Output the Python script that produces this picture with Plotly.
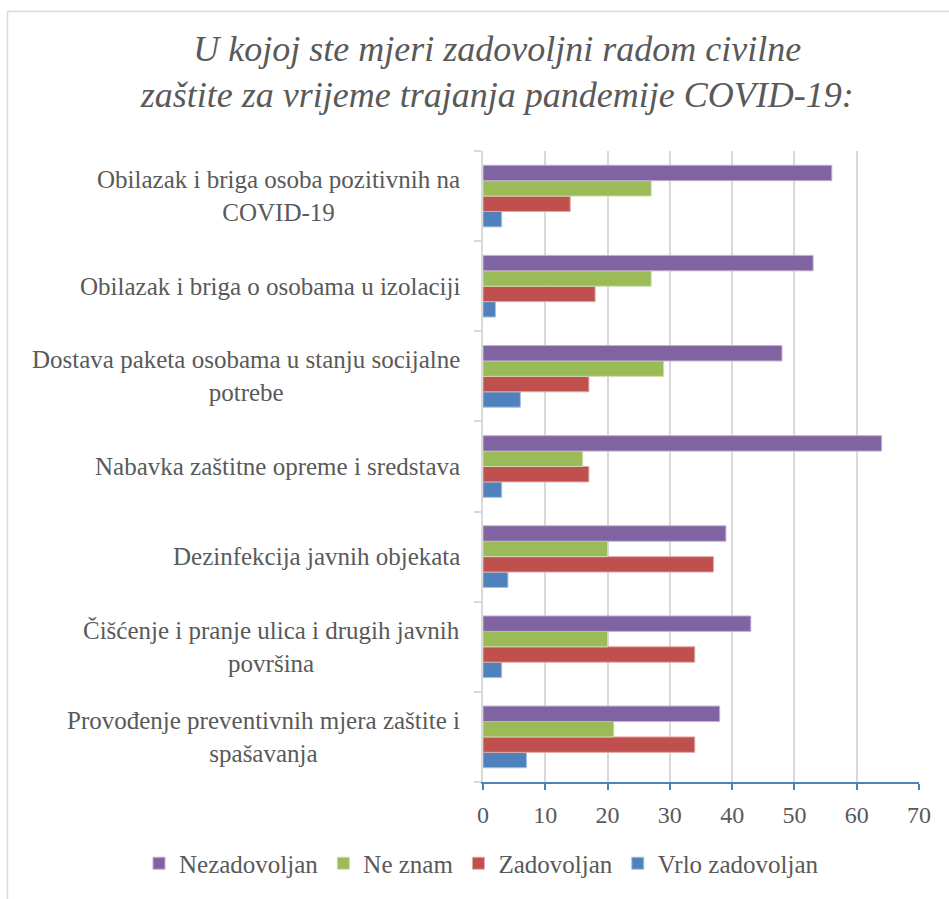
import plotly.graph_objects as go

# Categories, top to bottom as in the reference
categories = [
    "Obilazak i briga osoba pozitivnih na<br>COVID-19",
    "Obilazak i briga o osobama u izolaciji",
    "Dostava paketa osobama u stanju socijalne<br>potrebe",
    "Nabavka zaštitne opreme i sredstava",
    "Dezinfekcija javnih objekata",
    "Čišćenje i pranje ulica i drugih javnih<br>površina",
    "Provođenje preventivnih mjera zaštite i<br>spašavanja",
]

vrlo_zadovoljan = [3, 2, 6, 3, 4, 3, 7]
zadovoljan = [14, 18, 17, 17, 37, 34, 34]
ne_znam = [27, 27, 29, 16, 20, 20, 21]
nezadovoljan = [56, 53, 48, 64, 39, 43, 38]

x_ticks = [0, 10, 20, 30, 40, 50, 60, 70]

title_text = ("<i>U kojoj ste mjeri zadovoljni radom civilne<br>"
              "zaštite za vrijeme trajanja pandemije COVID-19:</i>")

series = [
    ("Vrlo zadovoljan", vrlo_zadovoljan, "#4f81bd", "#a7c0de"),
    ("Zadovoljan", zadovoljan, "#c0504d", "#e0a8a6"),
    ("Ne znam", ne_znam, "#9bbb59", "#cddcac"),
    ("Nezadovoljan", nezadovoljan, "#8064a2", "#bfb1d0"),
]

TEXT = "#595959"
FONT = "Liberation Serif"

fig = go.Figure()
for name, vals, col, edge in series:
    fig.add_trace(go.Bar(
        name=name, y=categories, x=vals, orientation="h",
        marker=dict(color=col, line=dict(color=edge, width=1)),
    ))

W, H = 949, 899
L, R, T, B = 483, 30, 151, 113
pw, ph = W - L - R, H - T - B

for c in categories:
    fig.add_annotation(
        x=(462 - L) / pw, xref="paper", y=c, yref="y",
        text=c, showarrow=False, xanchor="right", yanchor="middle",
        align="center", font=dict(family=FONT, size=25, color=TEXT),
    )

# chart border (left and top edges visible)
fig.add_shape(type="line", xref="paper", yref="paper",
              x0=(7.5 - L) / pw, x1=(7.5 - L) / pw,
              y0=(H - B - 10.5) / ph, y1=-(B + 5) / ph,
              line=dict(color="#d9d9d9", width=1.5))
fig.add_shape(type="line", xref="paper", yref="paper",
              x0=(7.5 - L) / pw, x1=(W + 5 - L) / pw,
              y0=(H - B - 10.5) / ph, y1=(H - B - 10.5) / ph,
              line=dict(color="#d9d9d9", width=1.5))

fig.update_layout(
    width=W, height=H,
    margin=dict(l=L, r=R, t=T, b=B),
    paper_bgcolor="white", plot_bgcolor="white",
    barmode="group", bargap=0.316, bargroupgap=0,
    title=dict(text=title_text, x=0.524, xanchor="center",
               y=1 - 60.5 / H, yanchor="top",
               font=dict(family=FONT, size=36, color=TEXT)),
    legend=dict(orientation="h", traceorder="reversed",
                xref="paper", yref="paper",
                x=(139 - L) / pw, xanchor="left",
                y=-(868 - (H - B)) / ph, yanchor="middle",
                font=dict(family=FONT, size=25, color=TEXT)),
    showlegend=True,
    font=dict(family=FONT, color=TEXT),
)

fig.update_xaxes(
    range=[0, 70], tickvals=x_ticks, showgrid=True,
    gridcolor="#d9d9d9", gridwidth=1.5,
    showline=True, linecolor="#4f81bd", linewidth=2,
    ticks="outside", tickcolor="#4f81bd", ticklen=6, tickwidth=2,
    ticklabelstandoff=4,
    tickfont=dict(family=FONT, size=24, color=TEXT),
    zeroline=False, fixedrange=True,
)
fig.update_yaxes(
    categoryorder="array", categoryarray=categories[::-1],
    showticklabels=False, showline=True, linecolor="#d9d9d9", linewidth=2,
    ticks="outside", tickson="boundaries", ticklen=7, tickcolor="#d9d9d9",
    tickwidth=2, showgrid=False, zeroline=False, fixedrange=True,
)

fig.write_html("out.html", config={"displayModeBar": False},
               post_script="document.body.style.margin='0';")
